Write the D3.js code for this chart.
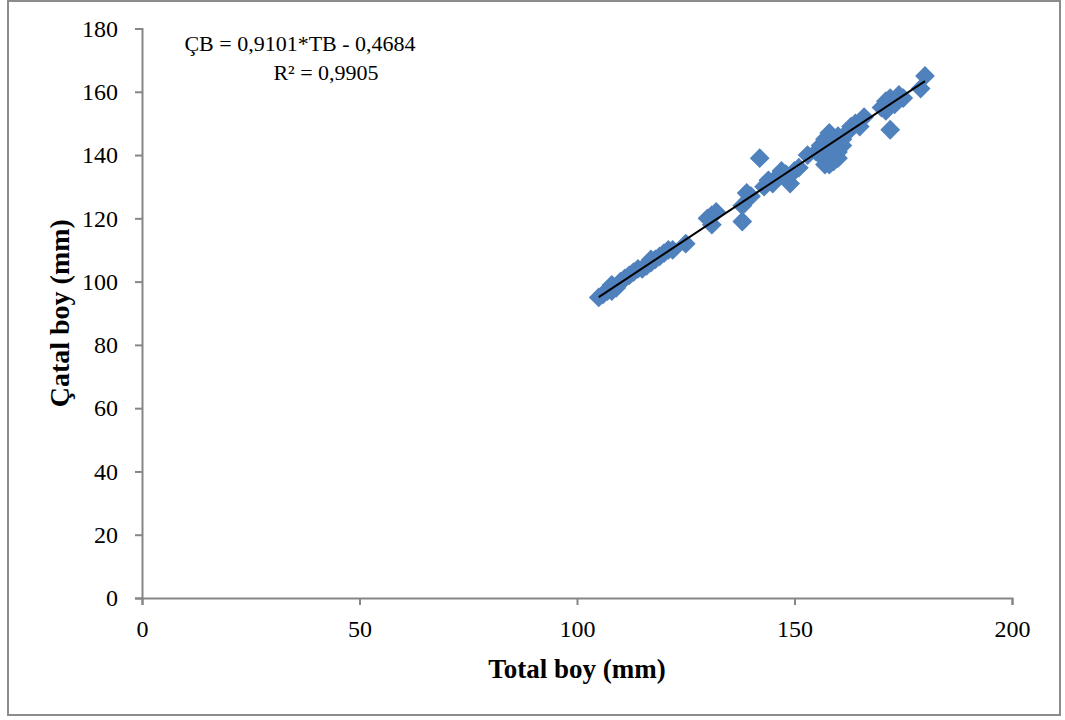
<!DOCTYPE html>
<html>
<head>
<meta charset="utf-8">
<script src="https://cdn.jsdelivr.net/npm/d3@7"></script>
<style>
	body { margin: 0; background: #fff; }
</style>
</head>
<body>
<div id="chart"></div>
<script>
'use strict';

// total boy (mm) vs catal boy (mm)
var totalBoy = [105, 106, 107, 108, 108, 109, 110, 111, 112, 113, 114, 115, 116, 117, 117, 118, 119, 120, 121, 122, 125,
	130, 131, 131, 132, 138, 138, 139, 140, 142, 143, 144, 145, 146, 147, 148, 149, 150, 151, 153,
	155, 156, 156, 157, 157, 157, 158, 158, 158, 159, 159, 160, 160, 160, 161, 161, 162, 163, 164, 165, 166,
	170, 171, 171, 172, 172, 173, 174, 175, 179, 180];
var catalBoy = [95, 96, 97, 99, 97, 98, 100, 101, 102, 103, 104, 104, 105, 107, 106, 107, 108, 109, 110, 110, 112,
	120, 121, 118, 122, 119, 124, 128, 127, 139, 130, 132, 131, 133, 135, 134, 131, 135, 136, 140,
	141, 143, 140, 137, 145, 139, 147, 141, 137, 144, 138, 146, 141, 139, 143, 145, 147, 149, 150, 149, 152,
	155, 157, 154, 158, 148, 156, 159, 158, 161, 165];

var xTicks = [0, 50, 100, 150, 200];
var yTicks = [0, 20, 40, 60, 80, 100, 120, 140, 160, 180];

var slope = 0.9101, intercept = -0.4684;
var eqLines = ["ÇB = 0,9101*TB - 0,4684", "R² = 0,9905"];

var FONT = "'Liberation Serif', 'DejaVu Serif', 'Times New Roman', serif";

var W = 1065, H = 720;
var margin = {top: 28.5, right: 53, bottom: 122, left: 142};
var width = W - margin.left - margin.right;
var height = H - margin.top - margin.bottom;

var svg = d3.select("#chart").append("svg")
	.attr("width", W)
	.attr("height", H)
	.style("font-family", FONT);

// outer chart border
svg.append("rect")
	.attr("x", 8).attr("y", 1)
	.attr("width", 1052).attr("height", 714)
	.attr("fill", "none")
	.attr("stroke", "#8c8c8c")
	.attr("stroke-width", 2);

var g = svg.append("g")
	.attr("transform", "translate(" + margin.left + "," + margin.top + ")");

var x = d3.scaleLinear().domain([0, 200]).range([0, width]),
	y = d3.scaleLinear().domain([0, 180]).range([height, 0]);

var xAxis = d3.axisBottom(x).tickValues(xTicks).tickSize(7).tickSizeOuter(7).tickPadding(9);
var yAxis = d3.axisLeft(y).tickValues(yTicks).tickSize(7).tickSizeOuter(7).tickPadding(17);

var gx = g.append("g")
	.attr("transform", "translate(0," + height + ")")
	.call(xAxis);
var gy = g.append("g").call(yAxis);

[gx, gy].forEach(function(a) {
	a.attr("font-family", null).attr("font-size", null);
	a.selectAll("path, line").attr("stroke", "#868686").attr("stroke-width", 2);
	a.selectAll("text").style("font-size", "24px").attr("fill", "#000");
});
gx.selectAll("text").attr("dy", "0.95em");

// axis titles
g.append("text")
	.attr("x", width / 2)
	.attr("y", height + 80)
	.attr("text-anchor", "middle")
	.style("font-size", "27px")
	.style("font-weight", "bold")
	.text("Total boy (mm)");

g.append("text")
	.attr("transform", "rotate(-90)")
	.attr("x", -(height / 2))
	.attr("y", -73)
	.attr("text-anchor", "middle")
	.style("font-size", "28px")
	.style("font-weight", "bold")
	.text("Çatal boy (mm)");

// markers
var pts = totalBoy.map(function(d, i) { return {tb: d, cb: catalBoy[i]}; });
var diamond = d3.symbol().type(d3.symbolSquare).size(196);

g.selectAll(".pt").data(pts).enter().append("path")
	.attr("class", "pt")
	.attr("d", diamond)
	.attr("transform", function(d) { return "translate(" + x(d.tb) + "," + y(d.cb) + ") rotate(45)"; })
	.attr("fill", "#4F81BD");

// linear trendline
var xMin = d3.min(totalBoy), xMax = d3.max(totalBoy);
g.append("line")
	.attr("x1", x(xMin)).attr("y1", y(slope * xMin + intercept))
	.attr("x2", x(xMax)).attr("y2", y(slope * xMax + intercept))
	.attr("stroke", "#000")
	.attr("stroke-width", 2);

// equation label
svg.selectAll(".eq").data(eqLines).enter().append("text")
	.attr("class", "eq")
	.attr("x", function(d, i) { return i ? 326 : 300; })
	.attr("y", function(d, i) { return i ? 80 : 51; })
	.attr("text-anchor", "middle")
	.style("font-size", "22px")
	.text(function(d) { return d; });
</script>
</body>
</html>
